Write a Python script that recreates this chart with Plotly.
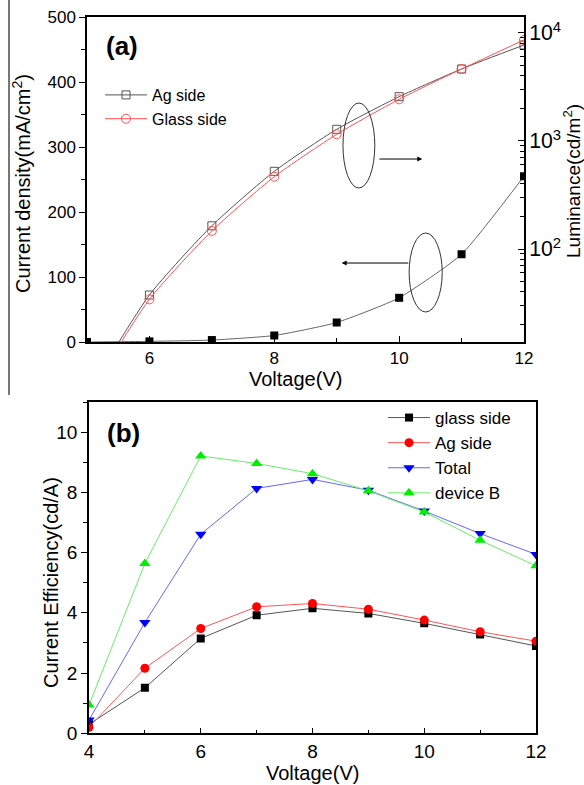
import plotly.graph_objects as go

# ---------------- data: panel (a) ----------------
volt_a = [5, 6, 7, 8, 9, 10, 11, 12]
current_density = [0, 1, 3, 10, 30, 68, 135, 255]
lum_ag = [4.5, 37.5, 164, 524, 1283, 2572, 4642, 7740]
lum_glass = [4.2, 34.2, 147, 467, 1154, 2432, 4642, 8611]

# ---------------- data: panel (b) ----------------
volt_b = [4, 5, 6, 7, 8, 9, 10, 11, 12]
ce_glass = [0.30, 1.51, 3.15, 3.92, 4.15, 3.98, 3.65, 3.28, 2.90]
ce_ag = [0.20, 2.16, 3.48, 4.20, 4.31, 4.12, 3.76, 3.37, 3.06]
ce_total = [0.44, 3.68, 6.61, 8.13, 8.43, 8.07, 7.38, 6.63, 5.94]
ce_devB = [0.94, 5.64, 9.21, 8.96, 8.62, 8.05, 7.35, 6.41, 5.56]

FONT = "Liberation Sans, Arial, sans-serif"
W, H = 584, 785

fig = go.Figure()

# panel (a)
fig.add_trace(go.Scatter(x=volt_a, y=current_density, mode="lines+markers",
                         line=dict(color="#666666", width=1, shape="spline", smoothing=0.5),
                         marker=dict(symbol="square", size=8, color="black"),
                         xaxis="x", yaxis="y", showlegend=False))
fig.add_trace(go.Scatter(x=volt_a, y=lum_ag, mode="lines+markers", name="Ag side",
                         line=dict(color="#555555", width=1, shape="spline", smoothing=0.6),
                         marker=dict(symbol="square-open", size=8, color="#555555", line=dict(width=1)),
                         xaxis="x", yaxis="y2", legend="legend"))
fig.add_trace(go.Scatter(x=volt_a, y=lum_glass, mode="lines+markers", name="Glass side",
                         line=dict(color="#ff5050", width=1, shape="spline", smoothing=0.6),
                         marker=dict(symbol="circle-open", size=9, color="#ff5050", line=dict(width=1)),
                         xaxis="x", yaxis="y2", legend="legend"))

# panel (b)
series_b = [
    ("glass side", ce_glass, "square", "black", "#555555", 8),
    ("Ag side", ce_ag, "circle", "red", "#ff5555", 9),
    ("Total", ce_total, "triangle-down", "blue", "#6666ff", 10),
    ("device B", ce_devB, "triangle-up", "#00ee00", "#66ee66", 10),
]
for name, ys, sym, mc, lc, sz in series_b:
    fig.add_trace(go.Scatter(x=volt_b, y=ys, mode="lines+markers", name=name,
                             line=dict(color=lc, width=1),
                             marker=dict(symbol=sym, size=sz, color=mc),
                             xaxis="x2", yaxis="y3", legend="legend2"))

tickfont_a = dict(family=FONT, size=17, color="black")
tickfont_b = dict(family=FONT, size=19, color="black")

ax_common = dict(showline=True, linecolor="black", linewidth=1.5, showgrid=False,
                 zeroline=False, ticklen=6, tickwidth=1.2, tickcolor="black", automargin=False)

fig.update_layout(
    template="none",
    width=W, height=H, margin=dict(l=0, r=0, t=0, b=0, pad=0),
    paper_bgcolor="white", plot_bgcolor="white",
    font=dict(family=FONT, color="black"),
    hovermode=False,
    xaxis=dict(domain=[87/W, 524/W], range=[5, 12], anchor="y", dtick=2, tick0=0,
               ticks="inside", mirror=True, tickfont=tickfont_a,
               minor=dict(dtick=1, ticks="inside", ticklen=4, tickcolor="black"), **ax_common),
    yaxis=dict(domain=[1-342/H, 1-17/H], range=[0, 500], anchor="x", dtick=100,
               ticks="outside", tickfont=tickfont_a,
               minor=dict(dtick=50, ticks="outside", ticklen=4, tickcolor="black"), **ax_common),
    yaxis2=dict(overlaying="y", side="right", anchor="x", type="log", range=[1.139, 4.148],
                dtick=1, exponentformat="power", ticks="inside", tickfont=tickfont_a,
                minor=dict(dtick="D1", ticks="inside", ticklen=4, tickcolor="black"), **ax_common),
    xaxis2=dict(domain=[89/W, 536/W], range=[4, 12], anchor="y3", dtick=2, tick0=0,
                ticks="inside", mirror=True, tickfont=tickfont_b,
                minor=dict(dtick=1, ticks="inside", ticklen=4, tickcolor="black"), **ax_common),
    yaxis3=dict(domain=[1-733.3/H, 1-402/H], range=[0, 11], anchor="x2", dtick=2, tick0=0,
                ticks="outside", mirror=True, tickfont=tickfont_b,
                minor=dict(dtick=1, ticks="outside", ticklen=4, tickcolor="black"), **ax_common),
    legend=dict(x=100/W, y=1-78/H, xanchor="left", yanchor="top", bgcolor="rgba(0,0,0,0)",
                font=dict(family=FONT, size=16, color="black"), tracegroupgap=0, borderwidth=0,
                itemwidth=42),
    legend2=dict(x=383/W, y=1-400/H, xanchor="left", yanchor="top", bgcolor="rgba(0,0,0,0)",
                 font=dict(family=FONT, size=17, color="black"), tracegroupgap=0, borderwidth=0,
                 itemwidth=42),
)

def pt(x, y):
    return x / W, 1 - y / H

annos = [
    dict(text="<b>(a)</b>", pos=pt(122, 46), size=26, angle=0),
    dict(text="<b>(b)</b>", pos=pt(123, 433), size=26, angle=0),
    dict(text="Current density(mA/cm<sup>2</sup>)", pos=pt(22, 184), size=20, angle=-90),
    dict(text="Luminance(cd/m<sup>2</sup>)", pos=pt(572, 181), size=19, angle=-90),
    dict(text="Voltage(V)", pos=pt(295, 379), size=20, angle=0),
    dict(text="Current Efficiency(cd/A)", pos=pt(51, 583), size=20, angle=-90),
    dict(text="Voltage(V)", pos=pt(312, 773), size=20, angle=0),
]
for a in annos:
    fig.add_annotation(text=a["text"], x=a["pos"][0], y=a["pos"][1], xref="paper", yref="paper",
                       showarrow=False, textangle=a["angle"],
                       font=dict(family=FONT, size=a["size"], color="black"),
                       xanchor="center", yanchor="middle")

# arrows (data coordinates of panel (a), left axis)
fig.add_annotation(x=10.37, y=281.5, ax=9.66, ay=281.5, xref="x", yref="y", axref="x", ayref="y",
                   text="", showarrow=True, arrowhead=2, arrowsize=1, arrowwidth=1, arrowcolor="black")
fig.add_annotation(x=9.08, y=121.5, ax=10.17, ay=121.5, xref="x", yref="y", axref="x", ayref="y",
                   text="", showarrow=True, arrowhead=2, arrowsize=1, arrowwidth=1, arrowcolor="black")

# ellipses
fig.add_shape(type="circle", xref="x", yref="y", x0=9.10, x1=9.61, y0=236.9, y1=367.7,
              line=dict(color="#333333", width=1))
fig.add_shape(type="circle", xref="x", yref="y", x0=10.16, x1=10.69, y0=46.2, y1=167.7,
              line=dict(color="#333333", width=1))

# frame line at the far left of panel (a)
fig.add_shape(type="line", xref="paper", yref="paper", x0=9/W, x1=9/W, y0=1-395/H, y1=1,
              line=dict(color="#777777", width=2))

fig.write_html("out.html", config={"displayModeBar": False},
               post_script="document.body.style.margin='0px';document.body.style.padding='0px';")
